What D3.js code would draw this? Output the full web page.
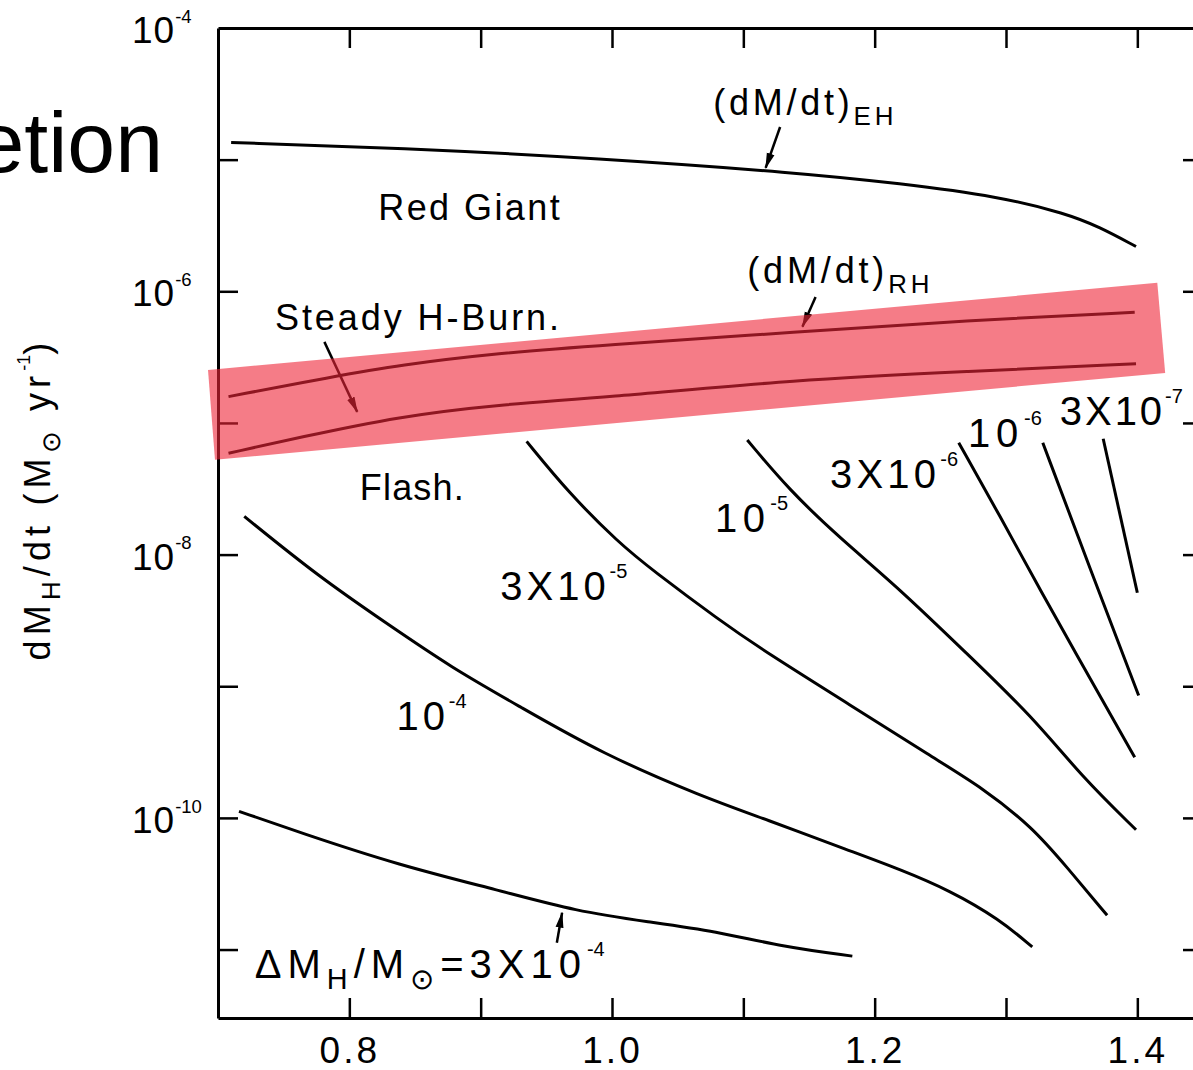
<!DOCTYPE html>
<html>
<head>
<meta charset="utf-8">
<script src="https://cdn.jsdelivr.net/npm/d3@7"></script>
<style>
  html, body { margin: 0; padding: 0; background: #fff; }
  svg { display: block; font-family: "Liberation Sans", Arial, Helvetica, sans-serif; }
</style>
</head>
<body>
<svg id="chart" width="1193" height="1070"></svg>
<script>
// white dwarf mass (Msun) vs log10 of accretion rate (Msun/yr)
var ehMass = [0.71, 0.838, 0.99, 1.142, 1.219, 1.295, 1.346, 1.371, 1.399];
var ehLogRate = [-4.87, -4.91, -4.99, -5.10, -5.18, -5.28, -5.41, -5.51, -5.66];

var rhMass = [0.708, 0.787, 0.838, 0.914, 0.99, 1.142, 1.27, 1.398];
var rhLogRate = [-6.80, -6.65, -6.56, -6.47, -6.41, -6.31, -6.22, -6.16];

var steadyMass = [0.708, 0.762, 0.838, 0.914, 0.99, 1.142, 1.27, 1.399];
var steadyLogRate = [-7.23, -7.11, -6.95, -6.86, -6.81, -6.67, -6.61, -6.55];

// flash curves, one per envelope mass dM_H/Msun
var flash3e4Mass = [0.716, 0.762, 0.838, 0.914, 0.973, 1.028, 1.079, 1.130, 1.183];
var flash3e4LogRate = [-9.95, -10.11, -10.36, -10.55, -10.71, -10.79, -10.86, -10.98, -11.05];
var flash1e4Mass = [0.720, 0.777, 0.828, 0.878, 0.929, 0.992, 1.069, 1.117, 1.181, 1.219, 1.257, 1.295, 1.320];
var flash1e4LogRate = [-7.71, -8.17, -8.52, -8.86, -9.15, -9.51, -9.84, -10.01, -10.25, -10.39, -10.55, -10.77, -10.98];
var flash3e5Mass = [0.935, 0.967, 1.005, 1.031, 1.082, 1.117, 1.181, 1.244, 1.282, 1.320, 1.346, 1.377];
var flash3e5LogRate = [-7.14, -7.53, -7.91, -8.12, -8.50, -8.74, -9.14, -9.54, -9.77, -10.07, -10.37, -10.74];
var flash1e5Mass = [1.103, 1.135, 1.173, 1.219, 1.270, 1.320, 1.358, 1.399];
var flash1e5LogRate = [-7.13, -7.51, -7.87, -8.26, -8.75, -9.23, -9.69, -10.09];
var flash3e6Mass = [1.264, 1.295, 1.325, 1.356, 1.381, 1.398];
var flash3e6LogRate = [-7.15, -7.70, -8.25, -8.80, -9.24, -9.54];
var flash1e6Mass = [1.328, 1.363, 1.401];
var flash1e6LogRate = [-7.15, -8.08, -9.07];
var flash3e7Mass = [1.374, 1.400];
var flash3e7LogRate = [-7.12, -8.29];

// axis ticks
var xTickValues = [0.8, 0.9, 1.0, 1.1, 1.2, 1.3, 1.4];
var xTickLabels = ["0.8", "", "1.0", "", "1.2", "", "1.4"];
var yTickExp = [-5, -6, -7, -8, -9, -10, -11];
var yLabelExp = [-4, -6, -8, -10];

// highlighted band (mass, log rate) corners
var bandMass = [0.6924, 1.4152, 1.4212, 0.6977];
var bandLogRate = [-6.597, -5.936, -6.620, -7.280];

var svg = d3.select("#chart");

var x = d3.scaleLinear().domain([0.7, 1.45]).range([218, 1203]);
var y = d3.scaleLog().domain([Math.pow(10, -11.52), 1e-4]).range([1018, 28]);
var p10 = function(v) { return Math.pow(10, v); };

// slide title, cut off at the left edge
svg.append("text")
  .attr("x", 163).attr("y", 172)
  .attr("text-anchor", "end")
  .attr("font-size", 86)
  .attr("fill", "#000")
  .text("Accretion");

/* rich text with sub/superscripts */
function richText(parent, parts, size) {
  var t = parent.append("text").attr("font-size", size).attr("fill", "#000");
  var shift = 0;
  parts.forEach(function(p) {
    var kind = p[1] || "main";
    var target = kind == "sup" ? -0.55 * size : (kind == "sub" ? 0.28 * size : 0);
    var fs = kind == "sup" ? 0.5 * size : (kind == "sub" ? 0.72 * size : size);
    t.append("tspan").attr("class", kind).attr("dy", target - shift).attr("font-size", fs).text(p[0]);
    shift = target;
  });
  return t;
}
// spread the letters (not the superscripts) to reach the target width
function fitWidth(t, target) {
  var w = t.node().getBBox().width;
  var spread = t.selectAll("tspan").filter(function() { return this.getAttribute("class") != "sup"; });
  var n = 0;
  spread.each(function() { n += this.textContent.length; });
  if (n > 1) spread.style("letter-spacing", ((target - w) / n).toFixed(2) + "px");
}

// axes (ticks point inward on all four sides)
function styleAxis(g) {
  g.select(".domain").attr("stroke", "#000").attr("stroke-width", 3);
  g.selectAll(".tick line").attr("stroke", "#000").attr("stroke-width", 2.5);
}
var gx = svg.append("g").attr("transform", "translate(0,1018)")
  .call(d3.axisBottom(x).tickValues(xTickValues).tickSize(-20).tickSizeOuter(0).tickPadding(19)
    .tickFormat(function(d, i) { return xTickLabels[i]; }));
styleAxis(gx);
gx.selectAll(".tick text").attr("font-size", 37).attr("font-family", null).attr("fill", "#000")
  .style("letter-spacing", "3px");

var gt = svg.append("g").attr("transform", "translate(0,28)")
  .call(d3.axisTop(x).tickValues(xTickValues).tickSize(-20).tickSizeOuter(0).tickFormat(""));
styleAxis(gt);

var gy = svg.append("g").attr("transform", "translate(218,0)")
  .call(d3.axisLeft(y).tickValues(yTickExp.map(p10)).tickSize(-20).tickSizeOuter(0).tickFormat(""));
styleAxis(gy);

var gr = svg.append("g").attr("transform", "translate(1203,0)")
  .call(d3.axisRight(y).tickValues(yTickExp.map(p10)).tickSize(-20).tickSizeOuter(0).tickFormat(""));
styleAxis(gr);

var yLab = svg.append("g");
yLabelExp.forEach(function(e) {
  var t = richText(yLab, [["10"], [String(e), "sup"]], 37);
  t.attr("x", 132).attr("y", y(p10(e)) + 15);
  t.select("tspan.main").style("letter-spacing", "1px");
});

// y axis title
var title = richText(svg.append("g").attr("transform", "translate(50,499) rotate(-90)"),
  [["dM"], ["H", "sub"], ["/dt  (M"], ["\u2299", "sub"], [" yr"], ["-1", "sup"], [")"]], 36);
title.attr("text-anchor", "middle");
fitWidth(title, 328);

// curves
var line = d3.line()
  .x(function(d) { return x(d[0]); })
  .y(function(d) { return y(p10(d[1])); })
  .curve(d3.curveBasis);
var curves = [
  [ehMass, ehLogRate], [rhMass, rhLogRate], [steadyMass, steadyLogRate],
  [flash3e4Mass, flash3e4LogRate], [flash1e4Mass, flash1e4LogRate], [flash3e5Mass, flash3e5LogRate],
  [flash1e5Mass, flash1e5LogRate], [flash3e6Mass, flash3e6LogRate], [flash1e6Mass, flash1e6LogRate],
  [flash3e7Mass, flash3e7LogRate]
];
svg.append("g").selectAll("path")
  .data(curves)
  .enter().append("path")
  .attr("d", function(c) { return line(d3.zip(c[0], c[1])); })
  .attr("fill", "none")
  .attr("stroke", "#000")
  .attr("stroke-width", 3);

// labels, placed at (mass, log rate)
var notes = [
  {parts: [["Red Giant"]], m: 0.822, r: -5.458, w: 184, size: 36},
  {parts: [["Steady H-Burn."]], m: 0.7434, r: -6.293, w: 287, size: 36},
  {parts: [["Flash."]], m: 0.808, r: -7.584, w: 105, size: 36},
  {parts: [["(dM/dt)"], ["EH", "sub"]], m: 1.077, r: -4.661, w: 184, size: 36},
  {parts: [["(dM/dt)"], ["RH", "sub"]], m: 1.103, r: -5.936, w: 186, size: 36},
  {parts: [["10"], ["-5", "sup"]], m: 1.0785, r: -7.827, w: 73, size: 40},
  {parts: [["3X10"], ["-6", "sup"]], m: 1.166, r: -7.493, w: 128, size: 40},
  {parts: [["10"], ["-6", "sup"]], m: 1.271, r: -7.181, w: 74, size: 40},
  {parts: [["3X10"], ["-7", "sup"]], m: 1.341, r: -7.014, w: 123, size: 40},
  {parts: [["3X10"], ["-5", "sup"]], m: 0.915, r: -8.343, w: 127, size: 40},
  {parts: [["10"], ["-4", "sup"]], m: 0.836, r: -9.330, w: 70, size: 40},
  {parts: [["\u0394M"], ["H", "sub"], ["/M"], ["\u2299", "sub"], ["=3X10"], ["-4", "sup"]], m: 0.728, r: -11.213, w: 350, size: 40}
];
var noteG = svg.append("g");
notes.forEach(function(n) {
  var t = richText(noteG, n.parts, n.size);
  t.attr("x", x(n.m)).attr("y", y(p10(n.r)));
  fitWidth(t, n.w);
});

// pointer arrows
svg.append("defs").append("marker")
  .attr("id", "head")
  .attr("markerUnits", "userSpaceOnUse")
  .attr("viewBox", "0 0 16 10")
  .attr("markerWidth", 16).attr("markerHeight", 10)
  .attr("refX", 15).attr("refY", 5)
  .attr("orient", "auto")
  .append("path").attr("d", "M0,1 L16,5 L0,9 Z").attr("fill", "#000");
var pointers = [
  [1.128, -4.752, 1.117, -5.063],
  [1.155, -6.043, 1.145, -6.270],
  [0.781, -6.384, 0.806, -6.916],
  [0.958, -10.948, 0.962, -10.720]
];
svg.append("g").selectAll("line")
  .data(pointers)
  .enter().append("line")
  .attr("x1", function(d) { return x(d[0]); })
  .attr("y1", function(d) { return y(p10(d[1])); })
  .attr("x2", function(d) { return x(d[2]); })
  .attr("y2", function(d) { return y(p10(d[3])); })
  .attr("stroke", "#000")
  .attr("stroke-width", 2.5)
  .attr("marker-end", "url(#head)");

// translucent red highlight over the steady burning strip
svg.append("polygon")
  .attr("points", d3.zip(bandMass, bandLogRate).map(function(d) { return x(d[0]) + "," + y(p10(d[1])); }).join(" "))
  .attr("fill", "rgb(238,36,55)")
  .attr("fill-opacity", 0.6);
</script>
</body>
</html>
